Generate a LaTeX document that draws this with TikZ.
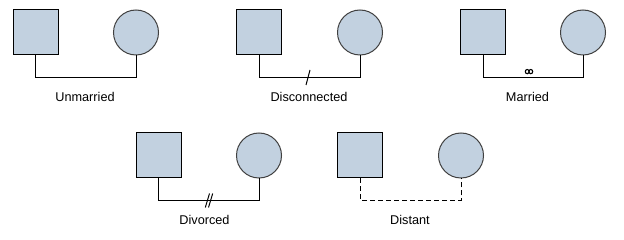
\documentclass[tikz,border=0pt]{standalone}
\usepackage{fontspec}
\setmainfont{Liberation Sans}
\definecolor{pfill}{RGB}{194,209,224}
\definecolor{cborder}{RGB}{64,64,64}
\begin{document}
\begin{tikzpicture}[x=1pt,y=-1pt,
  male/.style={rectangle,draw=black,fill=pfill,line width=1pt,minimum size=45pt,inner sep=0pt},
  female/.style={circle,draw=cborder,fill=pfill,line width=1pt,minimum size=45pt,inner sep=0pt},
  rel/.style={draw=black,line width=1pt},
  lbl/.style={font=\fontsize{12.7}{14}\selectfont,inner sep=0pt,anchor=center}]
\useasboundingbox (0,0) rectangle (624,240);
% Unmarried
\node[male] (s1) at (35.5,32.5) {};
\node[female] (c1) at (136,32.5) {};
\draw[rel] (s1.south) -- ++(0,22) -| (c1.south);
\node[lbl] (l1) at (85,97) {Unmarried};
% Disconnected
\node[male] (s2) at (259,32.5) {};
\node[female] (c2) at (360,32.5) {};
\draw[rel] (s2.south) -- ++(0,22) -| (c2.south);
\coordinate (d2a) at (306,85);
\coordinate (d2b) at (310,70);
\draw[rel] (d2a) -- (d2b);
\node[lbl] (l2) at (309,97) {Disconnected};
% Married
\node[male] (s3) at (483,32.5) {};
\node[female] (c3) at (583,32.5) {};
\draw[rel] (s3.south) -- ++(0,22) -| (c3.south);
\coordinate (m3a) at (527.2,71.6);
\coordinate (m3b) at (530.8,71.6);
\draw[line width=1.1pt] (m3a) circle[x radius=1.9pt,y radius=2.1pt];
\draw[line width=1.1pt] (m3b) circle[x radius=1.9pt,y radius=2.1pt];
\node[lbl] (l3) at (527.5,97) {Married};
% Divorced
\node[male] (s4) at (158.5,155.5) {};
\node[female] (c4) at (259,155.5) {};
\draw[rel] (s4.south) -- ++(0,22) -| (c4.south);
\coordinate (v4a) at (205.3,207.5);
\coordinate (v4b) at (209.5,193.5);
\coordinate (v4c) at (208.5,207.5);
\coordinate (v4d) at (212.7,193.5);
\draw[rel] (v4a) -- (v4b);
\draw[rel] (v4c) -- (v4d);
\node[lbl] (l4) at (204.5,220) {Divorced};
% Distant
\node[male] (s5) at (360,155.5) {};
\node[female] (c5) at (461,155.5) {};
\draw[rel,dash pattern=on 5pt off 3pt] (s5.south) -- ++(0,22) -| (c5.south);
\node[lbl] (l5) at (410,220) {Distant};
\end{tikzpicture}
\end{document}
